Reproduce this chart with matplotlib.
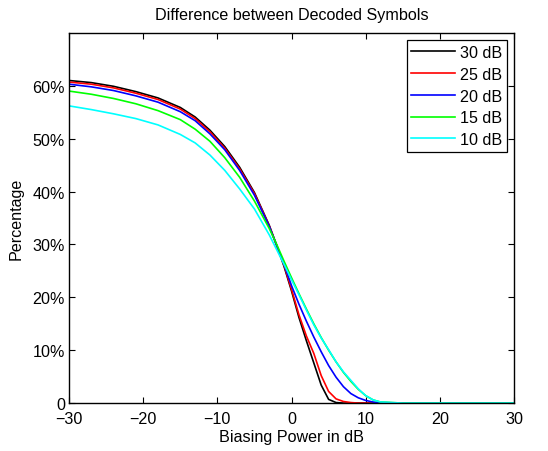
import matplotlib
matplotlib.use("Agg")
import matplotlib.pyplot as plt

# ── data ──────────────────────────────────────────────────────────
x = [-30, -27, -24, -21, -18, -15, -13, -11, -9, -7, -5, -3, -2, -1, 0,
     1, 2, 3, 4, 5, 6, 7, 8, 9, 10, 11, 12, 15, 20, 25, 30]

snr_30 = [0.610, 0.606, 0.599, 0.589, 0.577, 0.559, 0.541, 0.516, 0.485, 0.446,
          0.398, 0.336, 0.298, 0.258, 0.212, 0.162, 0.118, 0.076, 0.034, 0.007,
          0.001, 0.0, 0.0, 0.0, 0.0, 0.0, 0.0, 0.0, 0.0, 0.0, 0.0]
snr_25 = [0.607, 0.603, 0.596, 0.586, 0.574, 0.556, 0.538, 0.513, 0.482, 0.443,
          0.396, 0.335, 0.298, 0.260, 0.215, 0.167, 0.127, 0.094, 0.052, 0.022,
          0.008, 0.003, 0.001, 0.0, 0.0, 0.0, 0.0, 0.0, 0.0, 0.0, 0.0]
snr_20 = [0.603, 0.598, 0.591, 0.581, 0.569, 0.551, 0.534, 0.509, 0.479, 0.440,
          0.393, 0.334, 0.298, 0.262, 0.222, 0.187, 0.155, 0.125, 0.097, 0.071,
          0.049, 0.031, 0.018, 0.010, 0.005, 0.002, 0.001, 0.0, 0.0, 0.0, 0.0]
snr_15 = [0.590, 0.584, 0.576, 0.566, 0.553, 0.536, 0.518, 0.495, 0.464, 0.427,
          0.382, 0.330, 0.300, 0.268, 0.237, 0.207, 0.178, 0.150, 0.124, 0.100,
          0.078, 0.058, 0.041, 0.026, 0.014, 0.006, 0.002, 0.0, 0.0, 0.0, 0.0]
snr_10 = [0.562, 0.555, 0.547, 0.538, 0.526, 0.508, 0.492, 0.469, 0.440, 0.405,
          0.367, 0.318, 0.290, 0.262, 0.233, 0.205, 0.176, 0.148, 0.123, 0.101,
          0.078, 0.059, 0.043, 0.027, 0.014, 0.006, 0.002, 0.0, 0.0, 0.0, 0.0]

series = [snr_30, snr_25, snr_20, snr_15, snr_10]
labels = ["30 dB", "25 dB", "20 dB", "15 dB", "10 dB"]
colors = ["#000000", "#ff0000", "#0000ff", "#00ff00", "#00ffff"]

xticks = [-30, -20, -10, 0, 10, 20, 30]
yticks = [0, 0.1, 0.2, 0.3, 0.4, 0.5, 0.6]
ytick_labels = ["0", "10%", "20%", "30%", "40%", "50%", "60%"]

# ── plot ──────────────────────────────────────────────────────────
plt.rcParams["font.family"] = ["Liberation Sans", "DejaVu Sans"]
fs = 11.6
fig = plt.figure(figsize=(5.48, 4.52), dpi=100)
ax = fig.add_axes([0.126, 0.106, 0.812, 0.819])

for ys, lab, c in zip(series, labels, colors):
    ax.plot(x, ys, color=c, lw=1.2, label=lab)

ax.set_xlim(-30, 30)
ax.set_ylim(0, 0.7)
ax.set_xticks(xticks)
ax.set_yticks(yticks)
ax.set_yticklabels(ytick_labels)
ax.tick_params(direction="in", top=True, right=True, length=4, width=0.8,
               labelsize=fs, colors="black")
ax.tick_params(axis="x", pad=5.5)
ax.tick_params(axis="y", pad=3)
for s in ax.spines.values():
    s.set_linewidth(1.0)

ax.set_title("Difference between Decoded Symbols", fontsize=fs, pad=10)
ax.set_xlabel("Biasing Power in dB", fontsize=fs, labelpad=2)
ax.set_ylabel("Percentage", fontsize=fs, labelpad=6)

leg = ax.legend(loc="upper right", fontsize=fs, fancybox=False,
                framealpha=1, edgecolor="black", handlelength=2.7,
                handletextpad=0.3, borderpad=0.3, labelspacing=0.42,
                borderaxespad=0.45)
leg.get_frame().set_linewidth(0.9)

fig.savefig("out.png", dpi=100)
